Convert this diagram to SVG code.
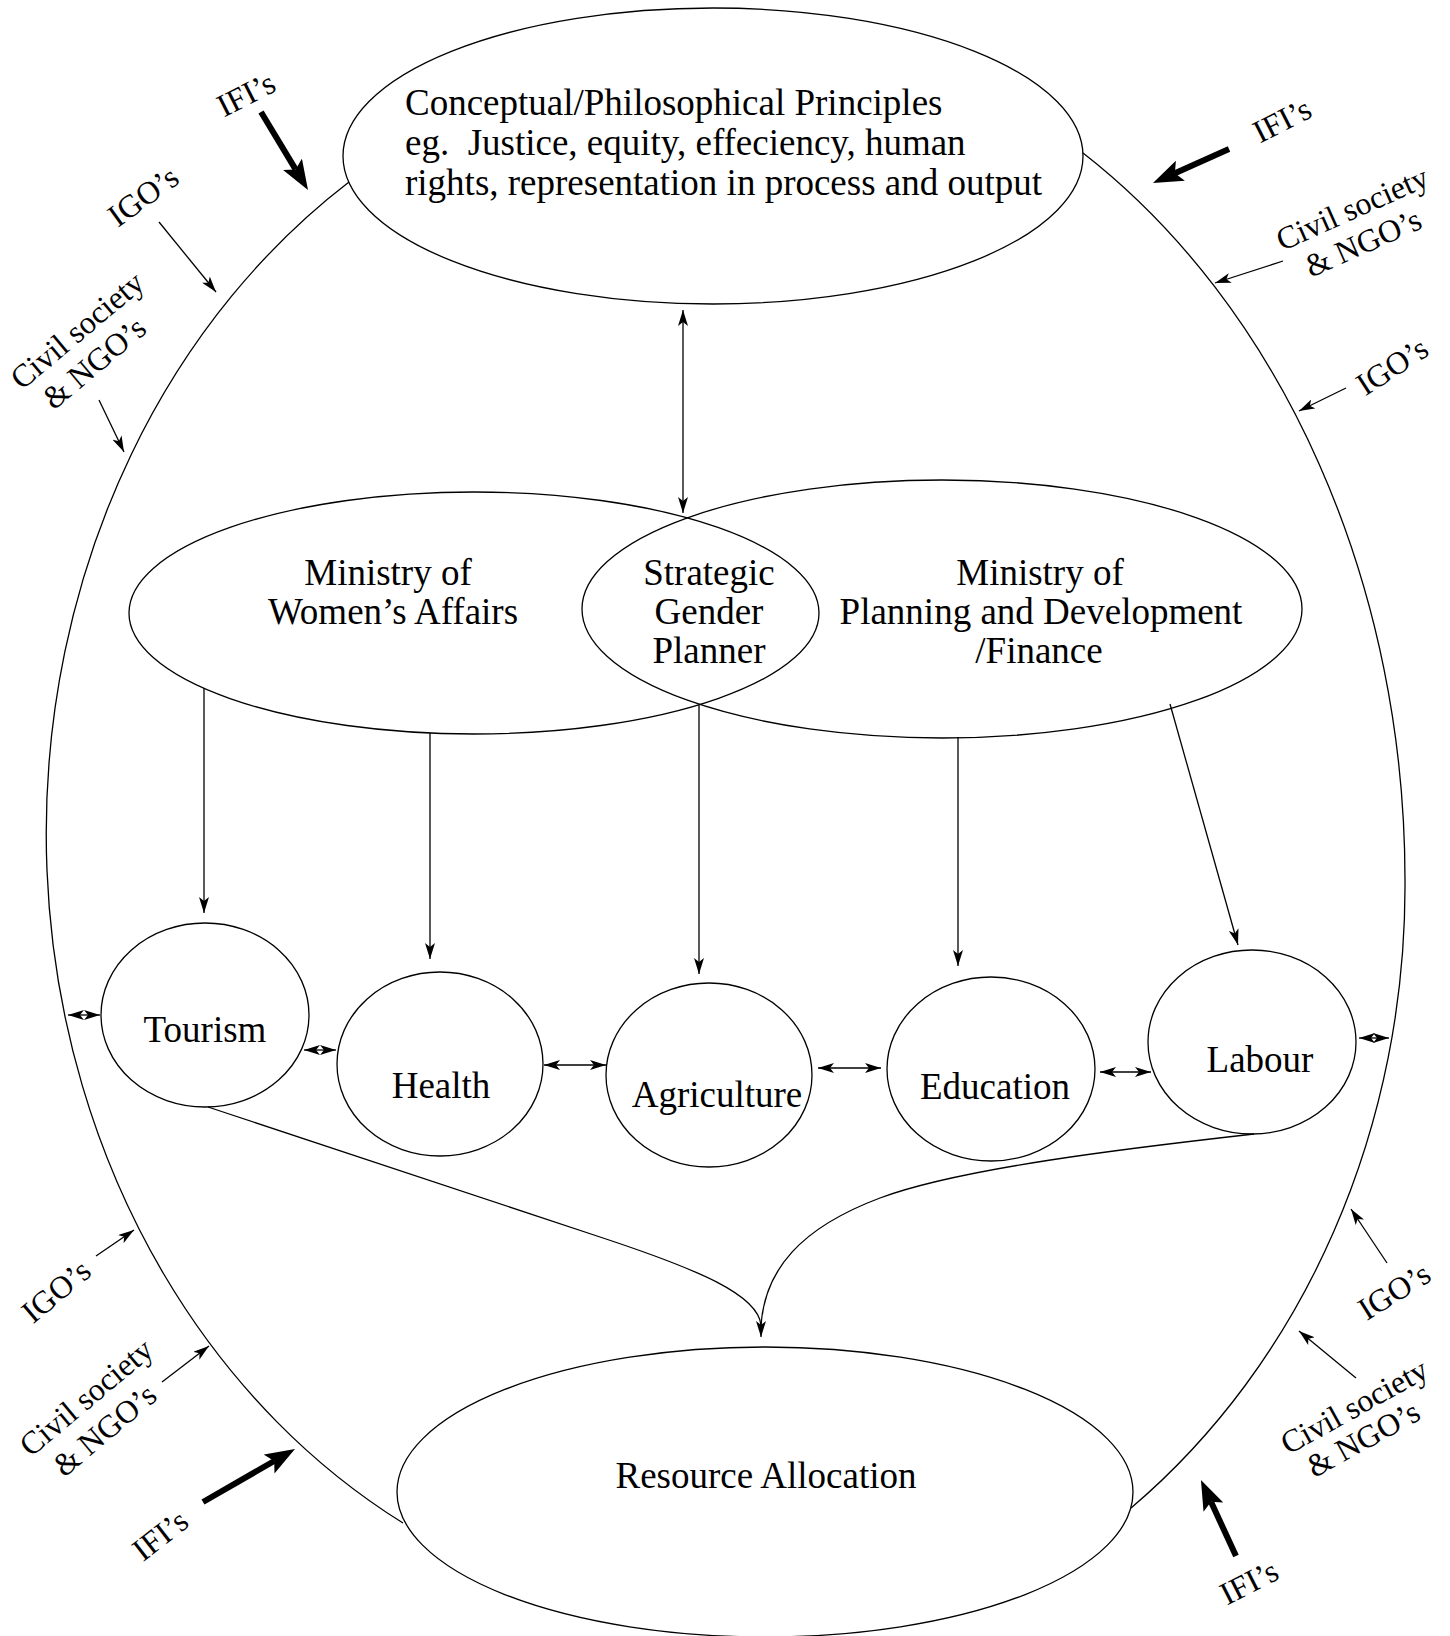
<svg xmlns="http://www.w3.org/2000/svg" width="1450" height="1636" viewBox="0 0 1450 1636">
<style>
.ln{fill:none;stroke:#000;stroke-width:1.3}
.arr{fill:none;stroke:#000;stroke-width:1.3}
.thk{fill:none;stroke:#000;stroke-width:6}
text{font-family:"Liberation Serif","Times New Roman",serif;fill:#000}
.t{font-size:37px}
.c{text-anchor:middle}
.lab{font-size:32px;text-anchor:middle}
</style>
<defs>
<marker id="ah" markerUnits="userSpaceOnUse" markerWidth="16" markerHeight="10" viewBox="0 0 16 10" refX="16" refY="5" orient="auto-start-reverse"><path d="M0,0 L16,5 L0,10 L4,5 Z" fill="#000"/></marker>
<marker id="ahT" markerUnits="userSpaceOnUse" markerWidth="30" markerHeight="22" viewBox="0 0 30 22" refX="6" refY="11" orient="auto"><path d="M0,0 L30,11 L0,22 L6,11 Z" fill="#000"/></marker>
</defs>
<rect width="1450" height="1636" fill="#fff"/>

<g id="context-boundary">
<path class="ln" d="M349,182 A679,783 0 0 0 403,1523"/>
<path class="ln" d="M1083,153 A680,855 0 0 1 1405,880 A680,775 0 0 1 1131,1508"/>
</g>

<g id="principles">
<ellipse class="ln" cx="713" cy="156" rx="370" ry="148"/>
<text class="t" x="405" y="115">Conceptual/Philosophical Principles</text>
<text class="t" x="405" y="155" xml:space="preserve" style="white-space:pre">eg.  Justice, equity, effeciency, human</text>
<text class="t" x="405" y="195">rights, representation in process and output</text>
</g>

<g id="ministry-womens-affairs">
<ellipse class="ln" cx="474" cy="613" rx="345" ry="121"/>
<text class="t c" x="388" y="585">Ministry of</text>
<text class="t c" x="393" y="624">Women’s Affairs</text>
</g>

<g id="ministry-planning">
<ellipse class="ln" cx="942" cy="609" rx="360" ry="129"/>
<text class="t c" x="1040" y="585">Ministry of</text>
<text class="t c" x="1041" y="624">Planning and Development</text>
<text class="t c" x="1039" y="663">/Finance</text>
</g>

<g id="strategic-gender-planner">
<text class="t c" x="709" y="585">Strategic</text>
<text class="t c" x="709" y="624">Gender</text>
<text class="t c" x="709" y="663">Planner</text>
</g>

<g id="tourism">
<ellipse class="ln" cx="205" cy="1015" rx="104" ry="92"/>
<text class="t c" x="205" y="1042">Tourism</text>
</g>
<g id="health">
<ellipse class="ln" cx="440" cy="1064" rx="103" ry="92"/>
<text class="t c" x="441" y="1098">Health</text>
</g>
<g id="agriculture">
<ellipse class="ln" cx="709" cy="1075" rx="103" ry="92"/>
<text class="t c" x="717" y="1107">Agriculture</text>
</g>
<g id="education">
<ellipse class="ln" cx="991" cy="1069" rx="104" ry="92"/>
<text class="t c" x="995" y="1099">Education</text>
</g>
<g id="labour">
<ellipse class="ln" cx="1252" cy="1042" rx="104" ry="92"/>
<text class="t c" x="1260" y="1072">Labour</text>
</g>

<g id="resource-allocation">
<ellipse class="ln" cx="765" cy="1492" rx="368" ry="145"/>
<text class="t c" x="766" y="1488">Resource Allocation</text>
</g>

<g id="labels">
<g transform="translate(246,94) rotate(-27)"><text class="lab" y="11">IFI’s</text></g>
<g transform="translate(143,196) rotate(-36)"><text class="lab" y="11">IGO’s</text></g>
<g transform="translate(77,330) rotate(-40)"><text class="lab" y="11">Civil society</text><text class="lab" x="-8" y="47">&amp; NGO’s</text></g>
<g transform="translate(1282,120) rotate(-27)"><text class="lab" y="11">IFI’s</text></g>
<g transform="translate(1352,208) rotate(-24)"><text class="lab" y="11">Civil society</text><text class="lab" x="-4" y="47">&amp; NGO’s</text></g>
<g transform="translate(1392,366) rotate(-33)"><text class="lab" y="11">IGO’s</text></g>
<g transform="translate(56,1291) rotate(-40)"><text class="lab" y="11">IGO’s</text></g>
<g transform="translate(86,1397) rotate(-40)"><text class="lab" y="11">Civil society</text><text class="lab" x="-7" y="48">&amp; NGO’s</text></g>
<g transform="translate(160,1535) rotate(-38)"><text class="lab" y="11">IFI’s</text></g>
<g transform="translate(1394,1291) rotate(-32)"><text class="lab" y="11">IGO’s</text></g>
<g transform="translate(1354,1406) rotate(-29)"><text class="lab" y="11">Civil society</text><text class="lab" x="-8" y="44">&amp; NGO’s</text></g>
<g transform="translate(1249,1582) rotate(-27)"><text class="lab" y="11">IFI’s</text></g>
</g>

<g id="connectors">
<line class="arr" x1="683" y1="310" x2="683" y2="513" marker-start="url(#ah)" marker-end="url(#ah)"/>
<line class="arr" x1="204" y1="688" x2="204" y2="913" marker-end="url(#ah)"/>
<line class="arr" x1="430" y1="733" x2="430" y2="959" marker-end="url(#ah)"/>
<line class="arr" x1="699" y1="705" x2="699" y2="974" marker-end="url(#ah)"/>
<line class="arr" x1="958" y1="737" x2="958" y2="966" marker-end="url(#ah)"/>
<line class="arr" x1="1170" y1="704" x2="1238" y2="945" marker-end="url(#ah)"/>

<line class="arr" x1="68" y1="1015" x2="100" y2="1015" marker-start="url(#ah)" marker-end="url(#ah)"/>
<line class="arr" x1="304" y1="1050" x2="336" y2="1050" marker-start="url(#ah)" marker-end="url(#ah)"/>
<line class="arr" x1="544" y1="1065" x2="606" y2="1065" marker-start="url(#ah)" marker-end="url(#ah)"/>
<line class="arr" x1="818" y1="1068" x2="881" y2="1068" marker-start="url(#ah)" marker-end="url(#ah)"/>
<line class="arr" x1="1100" y1="1072" x2="1151" y2="1072" marker-start="url(#ah)" marker-end="url(#ah)"/>
<line class="arr" x1="1359" y1="1038" x2="1389" y2="1038" marker-start="url(#ah)" marker-end="url(#ah)"/>

<path class="arr" d="M208,1107 L600,1237 C700,1270 758,1295 761,1325"/>
<path class="arr" d="M1254,1134 C1130,1148 960,1168 880,1198 C800,1228 765,1270 761,1325"/>
<line class="arr" x1="761" y1="1322" x2="761" y2="1337" marker-end="url(#ah)"/>

<line class="arr" x1="159" y1="222" x2="216" y2="292" marker-end="url(#ah)"/>
<line class="arr" x1="99" y1="400" x2="124" y2="452" marker-end="url(#ah)"/>
<line class="arr" x1="1283" y1="261" x2="1215" y2="283" marker-end="url(#ah)"/>
<line class="arr" x1="1346" y1="388" x2="1299" y2="411" marker-end="url(#ah)"/>
<line class="arr" x1="96" y1="1256" x2="134" y2="1230" marker-end="url(#ah)"/>
<line class="arr" x1="162" y1="1382" x2="209" y2="1346" marker-end="url(#ah)"/>
<line class="arr" x1="1387" y1="1263" x2="1351" y2="1209" marker-end="url(#ah)"/>
<line class="arr" x1="1356" y1="1378" x2="1299" y2="1331" marker-end="url(#ah)"/>

<line class="thk" x1="261" y1="112" x2="295.6" y2="169.4" marker-end="url(#ahT)"/>
<line class="thk" x1="1229" y1="149" x2="1174.9" y2="173.2" marker-end="url(#ahT)"/>
<line class="thk" x1="203" y1="1502" x2="274.2" y2="1461" marker-end="url(#ahT)"/>
<line class="thk" x1="1236" y1="1556" x2="1211" y2="1501.8" marker-end="url(#ahT)"/>
</g>
</svg>
